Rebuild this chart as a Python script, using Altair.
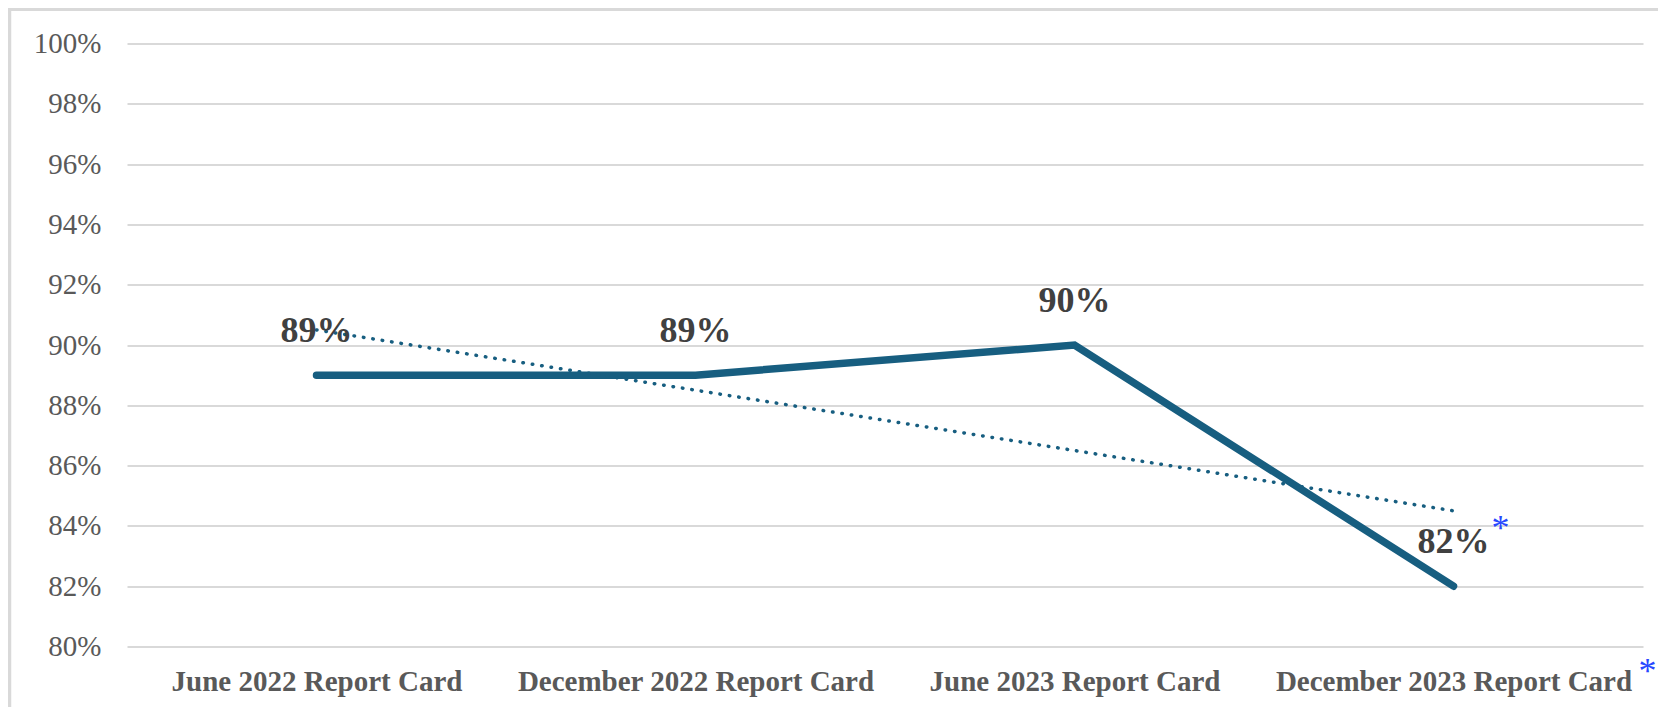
import json
import altair as alt
import pandas as pd

categories = ["June 2022 Report Card", "December 2022 Report Card",
              "June 2023 Report Card", "December 2023 Report Card"]
values = [0.89, 0.89, 0.90, 0.82]
y_ticks = [0.80, 0.82, 0.84, 0.86, 0.88, 0.90, 0.92, 0.94, 0.96, 0.98, 1.00]
note_mark = "*"

df = pd.DataFrame({"idx": list(range(len(categories))), "category": categories, "value": values})
last = df.tail(1)

W, H = 1516, 603
FONT = "Liberation Serif"
LINE = "#175E80"
BLUE = "#2848FF"

label_expr = json.dumps(categories) + "[datum.value]"

x_enc = alt.X("idx:Q",
              scale=alt.Scale(domain=[-0.5, len(categories) - 0.5], nice=False, zero=False),
              axis=alt.Axis(values=list(range(len(categories))), labelExpr=label_expr,
                            title=None, grid=False, ticks=False, domain=False,
                            labelFont=FONT, labelFontSize=29, labelFontWeight="bold",
                            labelColor="#595959", labelPadding=21, labelOverlap=False,
                            labelFlush=False, labelBound=False, labelLimit=0))
y_enc = alt.Y("value:Q",
              scale=alt.Scale(domain=[0.80, 1.00], nice=False, zero=False),
              axis=alt.Axis(values=y_ticks, format=".0%", title=None, grid=True,
                            gridColor="#D9D9D9", gridWidth=2, ticks=False, domain=False,
                            labelFont=FONT, labelFontSize=29, labelColor="#595959",
                            labelPadding=26))

base = alt.Chart(df)

line = base.mark_line(color=LINE, strokeWidth=7.5, strokeCap="round").encode(x=x_enc, y=y_enc)

trend = base.transform_regression("idx", "value", method="linear").mark_line(
    color=LINE, strokeWidth=3.5, strokeDash=[0.5, 9], strokeCap="round"
).encode(x="idx:Q", y="value:Q")

labels = base.mark_text(font=FONT, fontSize=36, fontWeight="bold", color="#404040",
                        baseline="alphabetic", dy=-33).encode(
    x="idx:Q", y="value:Q", text=alt.Text("value:Q", format=".0%"))

star1 = alt.Chart(last).mark_text(font=FONT, fontSize=36, color=BLUE, baseline="alphabetic",
                                  dx=47, dy=-46).encode(
    x="idx:Q", y="value:Q", text=alt.value(note_mark))

star2 = alt.Chart(last).mark_text(font=FONT, fontSize=36, color=BLUE, baseline="alphabetic",
                                  dx=194).encode(
    x="idx:Q", y=alt.value(H + 36), text=alt.value(note_mark))

frame_df = pd.DataFrame({"a": [0]})
frame_top = alt.Chart(frame_df).mark_rule(color="#D9D9D9", strokeWidth=3).encode(
    x=alt.value(-119), x2=alt.value(W + 60), y=alt.value(-34))
frame_left = alt.Chart(frame_df).mark_rule(color="#D9D9D9", strokeWidth=3.5).encode(
    x=alt.value(-117.5), y=alt.value(-36), y2=alt.value(H + 80))

chart = alt.layer(frame_top, frame_left, line, trend, labels, star1, star2).properties(
    width=W, height=H,
    autosize=alt.AutoSizeParams(type="none"),
    padding={"left": 119, "top": 35.5, "right": 15, "bottom": 60},
).configure_view(stroke=None)

chart.save("out.html", embed_options={"renderer": "svg", "actions": False})
